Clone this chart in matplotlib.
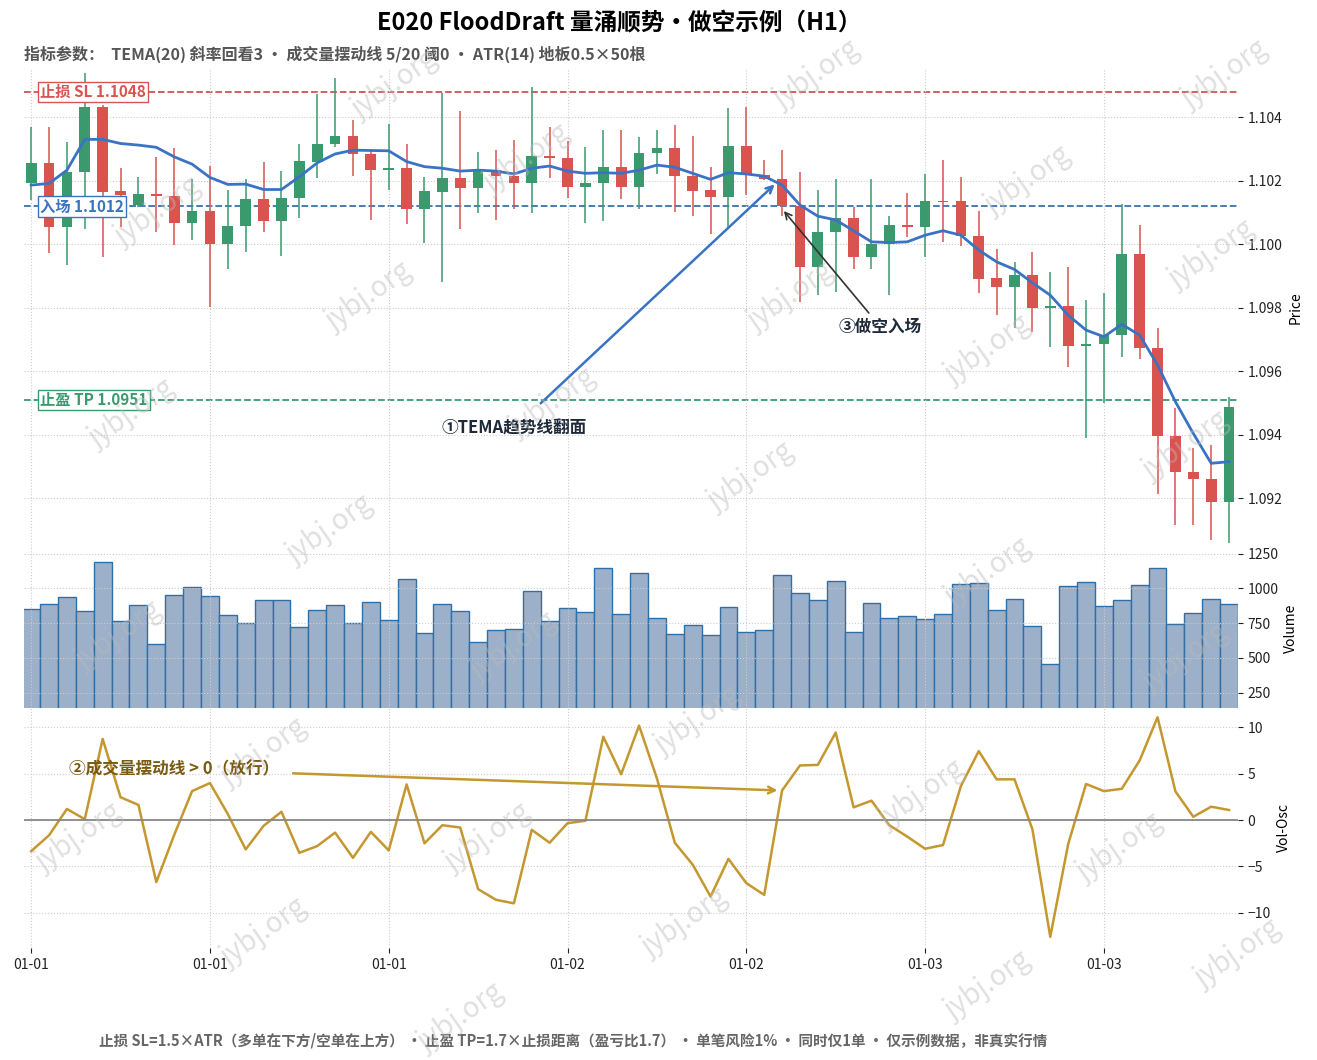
import numpy as np
import matplotlib.pyplot as plt

plt.rcParams['font.family'] = ['Noto Sans CJK SC', 'DejaVu Sans']

# OHLC
opens = [1.10192, 1.10258, 1.10054, 1.10227, 1.10434, 1.10168, 1.10124, 1.10158, 1.10152, 1.10066,
         1.10106, 1.10000, 1.10058, 1.10142, 1.10075, 1.10145, 1.10261, 1.10318, 1.10341, 1.10284,
         1.10236, 1.10242, 1.10113, 1.10166, 1.10208, 1.10179, 1.10236, 1.10215, 1.10192, 1.10279,
         1.10271, 1.10180, 1.10195, 1.10245, 1.10182, 1.10287, 1.10303, 1.10216, 1.10171, 1.10148,
         1.10310, 1.10218, 1.10206, 1.10121, 1.09930, 1.10038, 1.10082, 1.09961, 1.10000, 1.10061,
         1.10054, 1.10137, 1.10137, 1.10026, 1.09893, 1.09867, 1.09903, 1.09800, 1.09807, 1.09681,
         1.09685, 1.09714, 1.09971, 1.09672, 1.09397, 1.09281, 1.09262, 1.09187]
closes = [1.10258, 1.10054, 1.10227, 1.10434, 1.10166, 1.10155, 1.10158, 1.10151, 1.10066, 1.10106,
          1.10000, 1.10058, 1.10142, 1.10075, 1.10145, 1.10263, 1.10318, 1.10341, 1.10284, 1.10236,
          1.10240, 1.10113, 1.10168, 1.10208, 1.10179, 1.10236, 1.10215, 1.10192, 1.10279, 1.10271,
          1.10180, 1.10195, 1.10245, 1.10182, 1.10287, 1.10303, 1.10216, 1.10169, 1.10148, 1.10310,
          1.10218, 1.10205, 1.10121, 1.09930, 1.10038, 1.10082, 1.09961, 1.10000, 1.10061, 1.10054,
          1.10137, 1.10133, 1.10026, 1.09891, 1.09867, 1.09903, 1.09800, 1.09807, 1.09681, 1.09685,
          1.09714, 1.09971, 1.09672, 1.09397, 1.09281, 1.09262, 1.09187, 1.09488]
highs = [1.10371, 1.10371, 1.10324, 1.10541, 1.10439, 1.10240, 1.10213, 1.10276, 1.10303, 1.10205,
         1.10247, 1.10171, 1.10205, 1.10261, 1.10231, 1.10318, 1.10473, 1.10526, 1.10392, 1.10297,
         1.10381, 1.10318, 1.10211, 1.10478, 1.10420, 1.10292, 1.10297, 1.10329, 1.10497, 1.10371,
         1.10326, 1.10306, 1.10360, 1.10360, 1.10337, 1.10362, 1.10376, 1.10341, 1.10245, 1.10431,
         1.10434, 1.10266, 1.10299, 1.10229, 1.10173, 1.10205, 1.10119, 1.10205, 1.10089, 1.10163,
         1.10222, 1.10266, 1.10211, 1.10106, 1.09987, 1.09943, 1.09977, 1.09914, 1.09930, 1.09825,
         1.09846, 1.10127, 1.10061, 1.09738, 1.09483, 1.09357, 1.09367, 1.09520]
lows = [1.10140, 1.09974, 1.09935, 1.10050, 1.09961, 1.10056, 1.10119, 1.10040, 1.09998, 1.10014,
        1.09804, 1.09924, 1.09977, 1.10040, 1.09963, 1.10082, 1.10208, 1.10306, 1.10215, 1.10077,
        1.10171, 1.10064, 1.10005, 1.09882, 1.10047, 1.10098, 1.10077, 1.10113, 1.10098, 1.10208,
        1.10145, 1.10066, 1.10073, 1.10142, 1.10113, 1.10222, 1.10101, 1.10090, 1.10033, 1.10050,
        1.10155, 1.10203, 1.10090, 1.09819, 1.09840, 1.09851, 1.09921, 1.09924, 1.09840, 1.10024,
        1.09961, 1.10008, 1.09995, 1.09848, 1.09777, 1.09737, 1.09725, 1.09675, 1.09614, 1.09389,
        1.09499, 1.09646, 1.09638, 1.09213, 1.09115, 1.09115, 1.09068, 1.09058]
tema = [1.10187, 1.10192, 1.10234, 1.10331, 1.10331, 1.10318, 1.10313, 1.10306, 1.10276, 1.10253,
        1.10211, 1.10189, 1.10190, 1.10173, 1.10173, 1.10213, 1.10257, 1.10285, 1.10297, 1.10296,
        1.10295, 1.10261, 1.10245, 1.10240, 1.10231, 1.10234, 1.10231, 1.10222, 1.10240, 1.10247,
        1.10231, 1.10224, 1.10226, 1.10224, 1.10234, 1.10250, 1.10243, 1.10224, 1.10205, 1.10226,
        1.10222, 1.10215, 1.10187, 1.10124, 1.10089, 1.10077, 1.10043, 1.10008, 1.10006, 1.10008,
        1.10029, 1.10043, 1.10029, 1.09982, 1.09945, 1.09921, 1.09879, 1.09840, 1.09777, 1.09730,
        1.09709, 1.09748, 1.09714, 1.09620, 1.09504, 1.09404, 1.09310, 1.09315]
volume = [850, 887, 939, 836, 1189, 765, 880, 600, 953, 1012,
          946, 806, 748, 917, 917, 725, 843, 880, 748, 902,
          772, 1064, 681, 887, 836, 615, 703, 711, 978, 762,
          858, 828, 1145, 814, 1108, 789, 672, 735, 665, 869,
          687, 701, 1095, 964, 913, 1051, 687, 898, 789, 803,
          782, 818, 1029, 1036, 847, 927, 731, 454, 1015, 1044,
          876, 913, 1022, 1146, 745, 825, 927, 891]
vol_osc = [-3.35, -1.64, 1.2, 0.1, 8.76, 2.47, 1.64, -6.69, -1.6, 3.13,
           4.0, 0.65, -3.16, -0.62, 0.9, -3.53, -2.8, -1.35, -4.07, -1.27,
           -3.27, 3.85, -2.5, -0.55, -0.8, -7.45, -8.6, -8.98, -1.05, -2.44,
           -0.33, -0.07, 9.0, 4.95, 10.2, 4.5, -2.44, -4.8, -8.25, -4.18,
           -6.8, -8.07, 3.2, 5.9, 5.96, 9.45, 1.38, 2.1, -0.55, -1.78,
           -3.09, -2.69, 3.67, 7.45, 4.4, 4.4, -0.98, -12.6, -2.6, 3.9,
           3.13, 3.38, 6.44, 11.1, 3.1, 0.36, 1.45, 1.09]
tick_labels = ['01-01', '01-01', '01-01', '01-02', '01-02', '01-03', '01-03']

sl, entry, tp = 1.1048, 1.1012, 1.0951
entry_bar = 42

GREEN = '#3a9a6e'
RED = '#d9534f'
BLUE = '#3a73c4'
GOLD = '#c4972f'

n = len(opens)
x = np.arange(n)

fig = plt.figure(figsize=(13.17, 10.6), dpi=100)
L, R = 24 / 1317, 1238 / 1317
H = 1060
ax = fig.add_axes([L, 1 - 548 / H, R - L, 480 / H])
axv = fig.add_axes([L, 1 - 708 / H, R - L, 160 / H], sharex=ax)
axo = fig.add_axes([L, 1 - 948 / H, R - L, 240 / H], sharex=ax)

# candles
for i in range(n):
    up = closes[i] >= opens[i]
    c = GREEN if up else RED
    ax.vlines(x[i], lows[i], highs[i], color=c, lw=1.1, zorder=2)
    lo, hi = min(opens[i], closes[i]), max(opens[i], closes[i])
    ax.bar(x[i], max(hi - lo, 0.00003), bottom=lo, width=0.6, color=c, zorder=3)
ax.plot(x, tema, color=BLUE, lw=2, zorder=4)

for lvl, col, lab, ec in [(sl, '#cc5555', f'止损 SL {sl:.4f}', '#d9534f'),
                          (entry, '#3a73a8', f'入场 {entry:.4f}', '#3a73c4'),
                          (tp, '#3a9a70', f'止盈 TP {tp:.4f}', '#3a9a6e')]:
    ax.axhline(lvl, color=col, ls='--', lw=1.3, zorder=1)
    ax.text(0.5, lvl, lab, color=ec, fontsize=11, fontweight='bold', va='center', ha='left',
            bbox=dict(boxstyle='square,pad=0.15', fc='white', ec=ec, lw=1), zorder=5)

ax.annotate('①TEMA趋势线翻面', xy=(entry_bar - 0.3, tema[entry_bar] + 0.00008), xytext=(27, 1.0942),
            fontsize=12, fontweight='bold', color='#1e2a3a', ha='center', va='center',
            arrowprops=dict(arrowstyle='->', color=BLUE, lw=1.8, shrinkA=14), zorder=6)
ax.annotate('③做空入场', xy=(entry_bar, 1.10112), xytext=(47.5, 1.0974),
            fontsize=12, fontweight='bold', color='#1e2a3a', ha='center', va='center',
            arrowprops=dict(arrowstyle='->', color='#333333', lw=1.2), zorder=6)

ax.set_ylim(1.09043, 1.10556)
ax.set_yticks([1.092, 1.094, 1.096, 1.098, 1.100, 1.102, 1.104])
ax.yaxis.set_major_formatter(plt.FuncFormatter(lambda v, p: f'{v:.3f}'))
ax.set_ylabel('Price')

axv.bar(x, volume, width=1.0, color='#9cb0c9', edgecolor='#2f6fa8', lw=1)
axv.set_ylim(140, 1290)
axv.set_yticks([250, 500, 750, 1000, 1250])
axv.set_ylabel('Volume')

axo.plot(x, vol_osc, color=GOLD, lw=1.8)
axo.axhline(0, color='#888888', lw=1.3)
axo.set_ylim(-13.8, 12.1)
axo.set_yticks([-10, -5, 0, 5, 10])
axo.set_ylabel('Vol-Osc')
axo.annotate('②成交量摆动线 > 0（放行）', xy=(entry_bar - 0.1, vol_osc[entry_bar]), xytext=(8, 5.5),
             fontsize=12, fontweight='bold', color='#7a5a10', ha='center', va='center',
             arrowprops=dict(arrowstyle='->', color=GOLD, lw=1.8, shrinkA=8))

for a in (ax, axv, axo):
    a.yaxis.tick_right()
    a.yaxis.set_label_position('right')
    a.grid(True, ls=':', color='#cccccc', lw=0.8)
    a.tick_params(labelsize=10, colors='#222222')
    for s in a.spines.values():
        s.set_visible(False)
    a.set_xlim(-0.4, n - 0.5)
plt.setp(ax.get_xticklabels(), visible=False)
plt.setp(axv.get_xticklabels(), visible=False)
ax.tick_params(axis='x', length=0)
axv.tick_params(axis='x', length=0)
axo.set_xticks(np.arange(0, n, 10))
axo.set_xticklabels(tick_labels)

fig.text(0.47, 1 - 22 / H, 'E020 FloodDraft 量涌顺势・做空示例（H1）', ha='center', va='center',
         fontsize=17, fontweight='bold')
fig.text(L, 1 - 54 / H, '指标参数：  TEMA(20) 斜率回看3 ・ 成交量摆动线 5/20 阈0 ・ ATR(14) 地板0.5×50根',
         ha='left', va='center', fontsize=11.5, fontweight='bold', color='#555555')
fig.text(0.435, 1 - 1040 / H, '止损 SL=1.5×ATR（多单在下方/空单在上方） ・ 止盈 TP=1.7×止损距离（盈亏比1.7） ・ 单笔风险1% ・ 同时仅1单 ・ 仅示例数据，非真实行情',
         ha='center', va='center', fontsize=10.5, fontweight='bold', color='#666666')

# watermark
for wx, wy in [(0.3, 0.92), (0.62, 0.93), (0.93, 0.93), (0.12, 0.8),
               (0.4, 0.85), (0.78, 0.83), (0.92, 0.76), (0.28, 0.72), (0.6, 0.72), (0.75, 0.67),
               (0.1, 0.61), (0.42, 0.62), (0.9, 0.58), (0.25, 0.5), (0.57, 0.55), (0.75, 0.46),
               (0.09, 0.4), (0.39, 0.39), (0.9, 0.38), (0.2, 0.29), (0.53, 0.32), (0.7, 0.25),
               (0.06, 0.21), (0.37, 0.21), (0.85, 0.2), (0.2, 0.12), (0.52, 0.13), (0.75, 0.07),
               (0.35, 0.04), (0.94, 0.1)]:
    fig.text(wx, wy, 'jybj.org', fontsize=20, color='#bbbbbb', alpha=0.45, rotation=35,
             ha='center', va='center', zorder=10)

fig.savefig('out.png', dpi=100)
